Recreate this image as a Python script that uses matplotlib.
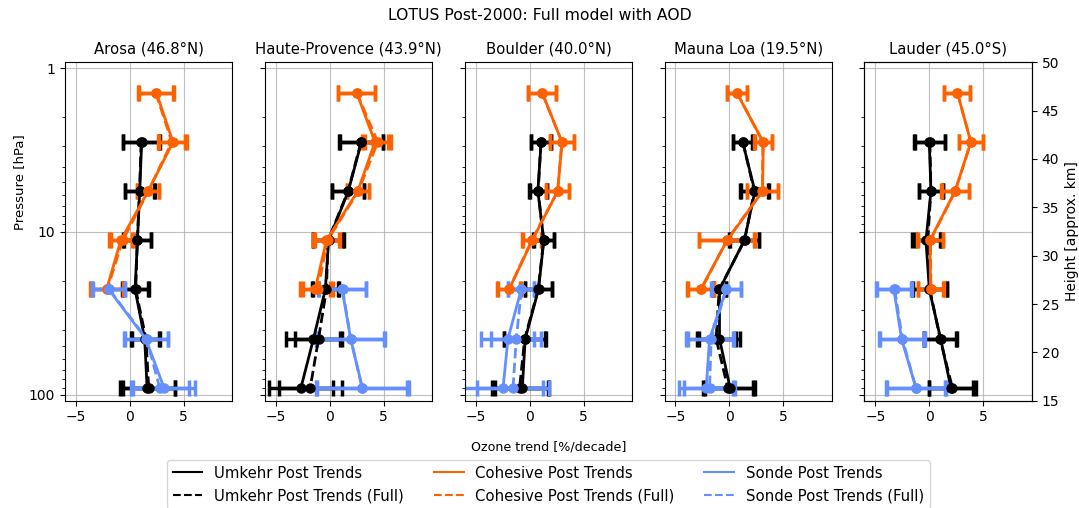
import numpy as np
import matplotlib
matplotlib.use("Agg")
import matplotlib.pyplot as plt
from matplotlib.lines import Line2D

nan = np.nan

# Umkehr layer mid-pressures [hPa]
pressure_hpa = [1.41, 2.83, 5.66, 11.3, 22.6, 45.3, 90.5]

stations = ["Arosa (46.8°N)", "Haute-Provence (43.9°N)", "Boulder (40.0°N)",
            "Mauna Loa (19.5°N)", "Lauder (45.0°S)"]

# ---- Umkehr Post Trends (solid) ----
umkehr_trend = [
    [nan, 1.10, 0.92, 0.71, 0.49, 1.38, 1.60],
    [nan, 2.94, 1.72, -0.10, -0.40, -1.50, -2.66],
    [nan, 1.07, 0.77, 1.32, 0.83, -0.40, -0.67],
    [nan, 1.23, 2.36, 1.38, -0.92, -0.92, 0.06],
    [nan, 0.00, 0.15, -0.31, 0.00, 1.05, 2.00],
]
umkehr_err = [
    [nan, 1.70, 1.40, 1.30, 1.23, 1.30, 2.55],
    [nan, 2.00, 1.50, 1.40, 1.20, 2.50, 3.00],
    [nan, 0.90, 0.80, 0.93, 1.27, 1.96, 2.50],
    [nan, 0.90, 1.30, 1.38, 0.60, 1.90, 2.30],
    [nan, 1.42, 1.10, 1.30, 1.60, 1.50, 2.00],
]
# ---- Umkehr Post Trends (Full) ----
umkehr_full_trend = [
    [nan, 1.05, 0.90, 0.70, 0.55, 1.50, 1.75],
    [nan, 2.90, 1.70, -0.15, -0.30, -1.03, -1.80],
    [nan, 1.05, 0.80, 1.30, 0.80, -0.45, -0.92],
    [nan, 1.25, 2.30, 1.40, -0.95, -1.23, -0.15],
    [nan, 0.05, 0.15, -0.15, 0.05, 1.00, 2.14],
]
umkehr_full_err = [
    [nan, 1.65, 1.35, 1.25, 1.20, 1.30, 2.40],
    [nan, 2.00, 1.50, 1.40, 1.20, 2.20, 2.90],
    [nan, 0.90, 0.80, 0.95, 1.25, 1.90, 2.60],
    [nan, 0.90, 1.30, 1.35, 0.60, 1.80, 2.30],
    [nan, 1.40, 1.10, 1.20, 1.55, 1.50, 2.20],
]

# ---- Cohesive Post Trends ----
cohesive_trend = [
    [2.46, 4.00, 1.69, -0.83, -2.15, nan, nan],
    [2.50, 4.19, 2.60, -0.30, -1.34, nan, nan],
    [1.17, 3.00, 2.60, 0.25, -1.90, nan, nan],
    [0.67, 3.13, 3.07, -0.21, -2.67, nan, nan],
    [2.60, 3.84, 2.38, 0.06, 0.12, nan, nan],
]
cohesive_err = [
    [1.65, 1.26, 1.00, 1.08, 1.54, nan, nan],
    [1.70, 1.20, 1.00, 1.20, 1.40, nan, nan],
    [1.30, 1.10, 1.07, 0.90, 1.07, nan, nan],
    [0.92, 0.80, 1.40, 2.58, 1.23, nan, nan],
    [1.20, 1.13, 1.28, 1.18, 1.18, nan, nan],
]
cohesive_full_trend = [
    [2.40, 3.90, 1.70, -0.65, -2.10, nan, nan],
    [2.50, 4.45, 2.65, -0.20, -1.10, nan, nan],
    [1.15, 3.00, 2.60, 0.20, -1.90, nan, nan],
    [0.70, 3.10, 3.05, -0.25, -2.60, nan, nan],
    [2.60, 3.85, 2.40, 0.10, 0.15, nan, nan],
]
cohesive_full_err = [
    [1.60, 1.25, 1.00, 1.05, 1.50, nan, nan],
    [1.70, 1.20, 1.00, 1.20, 1.40, nan, nan],
    [1.30, 1.10, 1.05, 0.90, 1.05, nan, nan],
    [0.90, 0.80, 1.40, 2.55, 1.20, nan, nan],
    [1.20, 1.10, 1.25, 1.15, 1.20, nan, nan],
]

# ---- Sonde Post Trends ----
sonde_trend = [
    [nan, nan, nan, nan, -1.94, 1.48, 3.17],
    [nan, nan, nan, nan, 1.16, 1.94, 3.03],
    [nan, nan, nan, nan, -0.77, -2.00, -2.45],
    [nan, nan, nan, nan, -0.30, -1.84, -2.15],
    [nan, nan, nan, nan, -3.28, -2.57, -1.24],
]
sonde_err = [
    [nan, nan, nan, nan, 1.54, 2.06, 2.90],
    [nan, nan, nan, nan, 2.20, 3.20, 4.30],
    [nan, nan, nan, nan, 1.20, 2.45, 3.70],
    [nan, nan, nan, nan, 1.38, 2.15, 2.50],
    [nan, nan, nan, nan, 1.63, 2.10, 2.75],
]
sonde_full_trend = [
    [nan, nan, nan, nan, -1.90, 1.55, 2.77],
    [nan, nan, nan, nan, 1.20, 1.95, 3.00],
    [nan, nan, nan, nan, -0.75, -1.23, -1.53],
    [nan, nan, nan, nan, -0.30, -1.69, -1.84],
    [nan, nan, nan, nan, -3.20, -2.50, -1.24],
]
sonde_full_err = [
    [nan, nan, nan, nan, 1.50, 2.00, 2.70],
    [nan, nan, nan, nan, 2.20, 3.10, 4.20],
    [nan, nan, nan, nan, 1.20, 2.30, 3.30],
    [nan, nan, nan, nan, 1.35, 2.10, 2.40],
    [nan, nan, nan, nan, 1.60, 2.10, 2.70],
]

height_ticks = [15, 20, 25, 30, 35, 40, 45, 50]

c_umkehr = "#000000"
c_cohesive = "#FE6100"
c_sonde = "#648FFF"

fig, axes = plt.subplots(1, 5, figsize=(10.79, 5.08), dpi=100, sharey=True)
fig.subplots_adjust(left=0.0602, right=0.9564, top=0.8774, bottom=0.2112, wspace=0.1936)

p = np.array(pressure_hpa)
style = dict(capsize=6, capthick=2.5, elinewidth=2.5, lw=2, ms=6.5, marker="o")

series = [
    (umkehr_trend, umkehr_err, umkehr_full_trend, umkehr_full_err, c_umkehr),
    (cohesive_trend, cohesive_err, cohesive_full_trend, cohesive_full_err, c_cohesive),
    (sonde_trend, sonde_err, sonde_full_trend, sonde_full_err, c_sonde),
]

for i, ax in enumerate(axes):
    for tr, er, ftr, fer, col in series:
        t = np.array(tr[i]); e = np.array(er[i])
        m = ~np.isnan(t)
        ax.errorbar(t[m], p[m], xerr=e[m], color=col, ls="-", **style)
        ft = np.array(ftr[i]); fe = np.array(fer[i])
        m = ~np.isnan(ft)
        ax.errorbar(ft[m], p[m], xerr=fe[m], color=col, ls="--", **style)
    ax.set_yscale("log")
    ax.set_xlim(-6, 9.5)
    ax.set_xticks([-5, 0, 5])
    ax.grid(True, color="#b0b0b0", lw=0.8, alpha=0.8)
    ax.set_title(stations[i], fontsize=10.7)

axes[0].set_ylim(108.4, 0.919)
axes[0].set_yticks([1, 10, 100])
axes[0].set_yticklabels(["1", "10", "100"])
fig.text(0.0185, 0.642, "Pressure [hPa]", rotation=90, ha="center", va="center",
         fontsize=9.5)

tw = axes[-1].twinx()
tw.set_ylim(15, 50)
tw.set_yticks(height_ticks)
tw.set_ylabel("Height [approx. km]", fontsize=10)

fig.text(0.5083, 0.12, "Ozone trend [%/decade]", ha="center", va="center", fontsize=9.1)
fig.suptitle("LOTUS Post-2000: Full model with AOD", fontsize=11.25, y=0.985)

handles = [
    Line2D([], [], color=c_umkehr, ls="-", lw=1.5),
    Line2D([], [], color=c_umkehr, ls="--", lw=1.5),
    Line2D([], [], color=c_cohesive, ls="-", lw=1.5),
    Line2D([], [], color=c_cohesive, ls="--", lw=1.5),
    Line2D([], [], color=c_sonde, ls="-", lw=1.5),
    Line2D([], [], color=c_sonde, ls="--", lw=1.5),
]
labels = ["Umkehr Post Trends", "Umkehr Post Trends (Full)",
          "Cohesive Post Trends", "Cohesive Post Trends (Full)",
          "Sonde Post Trends", "Sonde Post Trends (Full)"]
fig.legend(handles, labels, loc="upper center", bbox_to_anchor=(0.5083, 0.095),
           ncol=3, fontsize=10.7, frameon=True, columnspacing=2.0, borderaxespad=0)

fig.savefig("out.png", dpi=100)
